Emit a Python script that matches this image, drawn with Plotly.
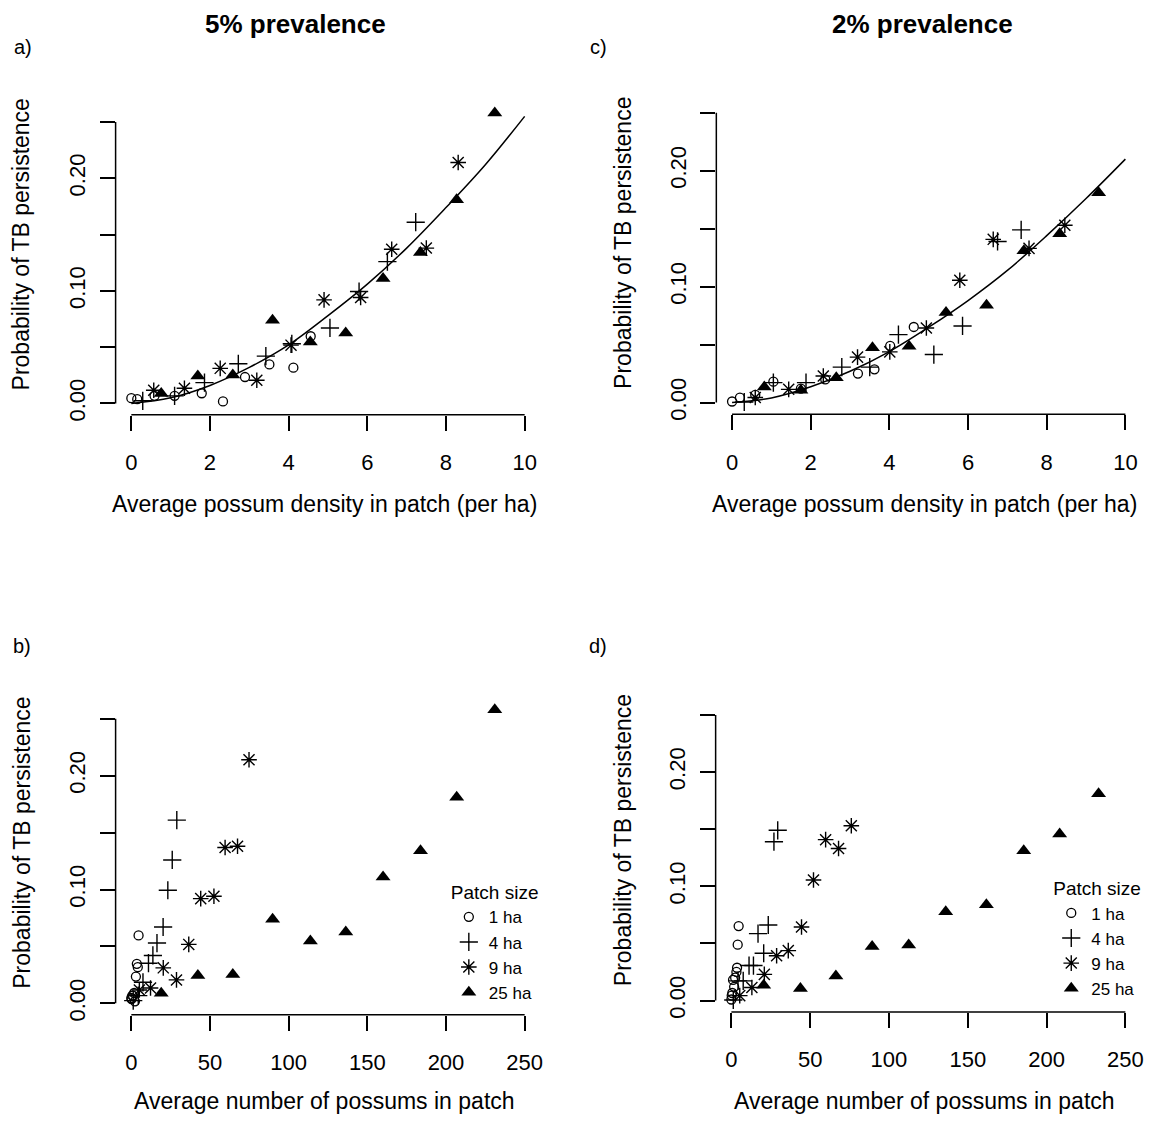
import plotly.graph_objects as go

W, H = 1152, 1142
FONT = "Liberation Sans, Arial, Helvetica, sans-serif"

size_labels = ["1 ha", "4 ha", "9 ha", "25 ha"]

# ---------------- 5% prevalence ----------------
# density (per ha)
dens5_1 = [0.00, 0.15, 0.59, 1.10, 1.79, 2.33, 2.89, 3.51, 4.12, 4.56]
dens5_4 = [0.29, 1.10, 1.86, 2.72, 3.42, 4.08, 5.05, 5.79, 6.51, 7.23]
dens5_9 = [0.57, 1.35, 2.26, 3.19, 4.06, 4.90, 5.83, 6.62, 7.50, 8.31]
dens5_25 = [0.76, 1.69, 2.58, 3.59, 4.55, 5.45, 6.40, 7.35, 8.27, 9.24]
# number of possums in patch
num5_1 = [0.0, 0.15, 0.6, 1.1, 1.8, 2.3, 2.9, 3.5, 4.1, 4.6]
num5_4 = [1.2, 4.4, 7.4, 10.9, 13.7, 16.3, 20.2, 23.2, 26.0, 28.9]
num5_9 = [5.1, 12.2, 20.3, 28.7, 36.5, 44.1, 52.5, 59.6, 67.5, 74.8]
num5_25 = [19.0, 42.3, 64.5, 89.8, 113.8, 136.3, 160.0, 183.8, 206.8, 231.0]
# probability of TB persistence
prob5_1 = [0.0047, 0.0038, 0.0068, 0.0068, 0.0091, 0.0018, 0.0235, 0.0347, 0.0318, 0.0597]
prob5_4 = [0.0024, 0.0068, 0.0185, 0.0353, 0.0421, 0.0530, 0.0671, 0.0994, 0.1260, 0.1610]
prob5_9 = [0.0118, 0.0135, 0.0312, 0.0206, 0.0518, 0.0920, 0.0941, 0.1370, 0.1380, 0.2140]
prob5_25 = [0.0088, 0.0244, 0.0253, 0.0739, 0.0547, 0.0626, 0.1110, 0.1340, 0.1810, 0.2580]

# ---------------- 2% prevalence ----------------
dens2_1 = [0.00, 0.20, 0.59, 1.05, 1.75, 2.37, 3.20, 3.62, 4.02, 4.62]
dens2_4 = [0.31, 1.05, 1.88, 2.79, 3.50, 4.23, 5.13, 5.86, 6.75, 7.35]
dens2_9 = [0.59, 1.44, 2.32, 3.19, 4.01, 4.94, 5.79, 6.64, 7.55, 8.46]
dens2_25 = [0.82, 1.75, 2.65, 3.57, 4.50, 5.44, 6.47, 7.42, 8.33, 9.32]
num2_1 = [0.0, 0.2, 0.6, 1.05, 1.75, 2.4, 3.2, 3.6, 4.0, 4.6]
num2_4 = [1.2, 4.2, 7.5, 11.2, 14.0, 16.9, 20.5, 23.4, 27.0, 29.4]
num2_9 = [5.3, 13.0, 20.9, 28.7, 36.1, 44.5, 52.1, 59.8, 68.0, 76.1]
num2_25 = [20.5, 43.8, 66.3, 89.3, 112.5, 136.0, 161.8, 185.5, 208.3, 233.0]
prob2_1 = [0.0009, 0.0043, 0.0066, 0.0180, 0.0120, 0.0200, 0.0250, 0.0287, 0.0489, 0.0652]
prob2_4 = [0.0005, 0.0172, 0.0172, 0.0306, 0.0306, 0.0586, 0.0414, 0.0661, 0.1390, 0.1490]
prob2_9 = [0.0043, 0.0114, 0.0229, 0.0392, 0.0437, 0.0643, 0.1055, 0.1408, 0.1330, 0.1530]
prob2_25 = [0.0134, 0.0106, 0.0214, 0.0472, 0.0486, 0.0776, 0.0839, 0.1310, 0.1457, 0.1810]

# fitted curves
fit_density = [0, 1, 2, 3, 4, 5, 6, 7, 8, 9, 10]
fit5 = [0.0, 0.005, 0.016, 0.032, 0.052, 0.078, 0.106, 0.138, 0.174, 0.212, 0.255]
fit2 = [0.0, 0.004, 0.0136, 0.027, 0.044, 0.065, 0.088, 0.114, 0.144, 0.176, 0.210]

y_ticks = [0, 0.05, 0.10, 0.15, 0.20, 0.25]
y_ticktext = ["0.00", "", "0.10", "", "0.20", ""]
x_ticks_density = [0, 2, 4, 6, 8, 10]
x_ticks_number = [0, 50, 100, 150, 200, 250]

# ------------- styling -------------
markers = [
    dict(symbol="circle-open", size=9, color="black", line=dict(width=1.3, color="black")),
    dict(symbol="cross-thin-open", size=13, color="black", line=dict(width=1.4, color="black")),
    dict(symbol="asterisk-open", size=13, color="black", line=dict(width=1.4, color="black")),
    dict(symbol="triangle-up", size=13, color="black", line=dict(width=0)),
]

fig = go.Figure()

panels = [
    # (xaxis, yaxis, xs, ys, legend)
    ("x", "y", [dens5_1, dens5_4, dens5_9, dens5_25], [prob5_1, prob5_4, prob5_9, prob5_25], None),
    ("x2", "y2", [num5_1, num5_4, num5_9, num5_25], [prob5_1, prob5_4, prob5_9, prob5_25], "legend"),
    ("x3", "y3", [dens2_1, dens2_4, dens2_9, dens2_25], [prob2_1, prob2_4, prob2_9, prob2_25], None),
    ("x4", "y4", [num2_1, num2_4, num2_9, num2_25], [prob2_1, prob2_4, prob2_9, prob2_25], "legend2"),
]

for xa, ya, xs, ys, leg in panels:
    for i in range(4):
        kw = dict(x=xs[i], y=ys[i], mode="markers", marker=markers[i], name=size_labels[i],
                  xaxis=xa, yaxis=ya, cliponaxis=False)
        if leg:
            kw["showlegend"] = True
            kw["legend"] = leg
        else:
            kw["showlegend"] = False
        fig.add_trace(go.Scatter(**kw))

fig.add_trace(go.Scatter(x=fit_density, y=fit5, mode="lines", line=dict(color="black", width=1.5, shape="spline"),
                         xaxis="x", yaxis="y", showlegend=False))
fig.add_trace(go.Scatter(x=fit_density, y=fit2, mode="lines", line=dict(color="black", width=1.5, shape="spline"),
                         xaxis="x3", yaxis="y3", showlegend=False))

# domains (pixels measured from reference)
def px_x(v):
    return v / W

def px_y(v):
    return 1 - v / H

dom = {
    "a": ([px_x(115.9), px_x(541.8)], [px_y(417.3), px_y(111.4)]),
    "b": ([px_x(115.9), px_x(541.8)], [px_y(1021.0), px_y(711.8)]),
    "c": ([px_x(718.2), px_x(1144.1)], [px_y(416.7), px_y(101.8)]),
    "d": ([px_x(717.5), px_x(1144.1)], [px_y(1018.2), px_y(707.8)]),
}

tickfont = dict(family=FONT, size=22, color="black")
common = dict(showgrid=False, zeroline=False, showline=False, ticks="outside", ticklen=15,
              tickwidth=1.5, tickcolor="black", tickfont=tickfont)

def xax(d, dens, anchor):
    if dens:
        return dict(domain=d, range=[-0.4, 10.4], tickvals=x_ticks_density, anchor=anchor,
                    ticklabelstandoff=13, **common)
    return dict(domain=d, range=[-10, 260], tickvals=x_ticks_number, anchor=anchor,
                ticklabelstandoff=13, **common)

def yax(d, anchor):
    return dict(domain=d, range=[-0.01, 0.26], tickvals=y_ticks, ticktext=y_ticktext, tickangle=-90,
                anchor=anchor, ticklabelstandoff=6, **common)

legend_common = dict(xanchor="left", yanchor="top",
                     title=dict(text="Patch size", font=dict(family=FONT, size=19, color="black")),
                     font=dict(family=FONT, size=17, color="black"), bgcolor="rgba(0,0,0,0)",
                     itemwidth=30, borderwidth=0)

fig.update_layout(
    width=W, height=H,
    margin=dict(l=0, r=0, t=0, b=0),
    paper_bgcolor="white", plot_bgcolor="white",
    font=dict(family=FONT, color="black"),
    xaxis=xax(dom["a"][0], True, "y"), yaxis=yax(dom["a"][1], "x"),
    xaxis2=xax(dom["b"][0], False, "y2"), yaxis2=yax(dom["b"][1], "x2"),
    xaxis3=xax(dom["c"][0], True, "y3"), yaxis3=yax(dom["c"][1], "x3"),
    xaxis4=xax(dom["d"][0], False, "y4"), yaxis4=yax(dom["d"][1], "x4"),
    legend=dict(x=px_x(450), y=px_y(880), **legend_common),
    legend2=dict(x=px_x(1054), y=px_y(876), **legend_common),
)

# R-style axis lines spanning the first to last tick
shapes = []
for xa, ya, xmax in [("x", "y", 10), ("x2", "y2", 250), ("x3", "y3", 10), ("x4", "y4", 250)]:
    shapes.append(dict(type="line", xref=xa, yref=ya + " domain", x0=0, x1=xmax, y0=0, y1=0,
                       line=dict(color="black", width=1.5)))
    shapes.append(dict(type="line", xref=xa + " domain", yref=ya, x0=0, x1=0, y0=0, y1=0.25,
                       line=dict(color="black", width=1.5)))
fig.update_layout(shapes=shapes)

ann = []
def add_text(text, xp, yp, size, bold=False, angle=0, xanchor="center"):
    ann.append(dict(text=("<b>%s</b>" % text) if bold else text, x=px_x(xp), y=px_y(yp),
                    xref="paper", yref="paper", showarrow=False, textangle=angle,
                    xanchor=xanchor, yanchor="middle",
                    font=dict(family=FONT, size=size, color="black")))

add_text("5% prevalence", 296, 24, 26, bold=True)
add_text("2% prevalence", 925, 24, 26, bold=True)
add_text("a)", 23, 47, 20)
add_text("c)", 600, 47, 20)
add_text("b)", 22, 650, 20)
add_text("d)", 600, 650, 20)
add_text("Probability of TB persistence", 22, 246, 23, angle=-90)
add_text("Probability of TB persistence", 624, 244, 23, angle=-90)
add_text("Probability of TB persistence", 22, 848, 23, angle=-90)
add_text("Probability of TB persistence", 624, 845, 23, angle=-90)
add_text("Average possum density in patch (per ha)", 325, 507, 23)
add_text("Average possum density in patch (per ha)", 927, 507, 23)
add_text("Average number of possums in patch", 325, 1108, 23)
add_text("Average number of possums in patch", 927, 1108, 23)
fig.update_layout(annotations=ann)

fig.write_html("out.html")
